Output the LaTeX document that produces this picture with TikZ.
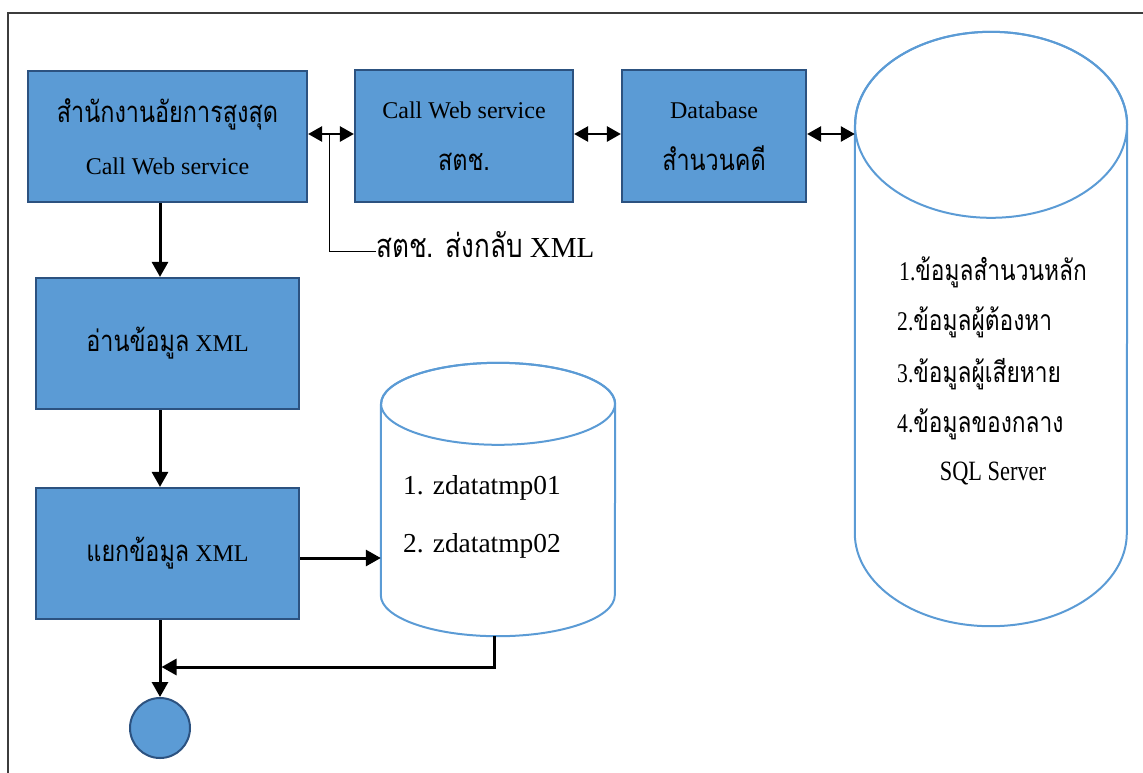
\documentclass[tikz,border=0pt]{standalone}
\usepackage{fontspec}
\setmainfont{Liberation Serif}
\newfontfamily\thaifont[Script=Thai,FakeStretch=0.8,Scale=1.22]{Loma}
\newfontfamily\condfont[FakeStretch=0.8,Scale=1.16]{Liberation Serif}
\newcommand\thaitxt[1]{{\thaifont #1}}
\newcommand\condtxt[1]{{\condfont #1}}
\usetikzlibrary{arrows.meta,calc}
\definecolor{boxfill}{HTML}{5B9BD5}
\definecolor{boxline}{RGB}{44,82,128}
\definecolor{framegray}{RGB}{60,60,60}
\begin{document}
\begin{tikzpicture}[x=1pt,y=-1pt,
  procbox/.style={draw=boxline,fill=boxfill,line width=2.2pt,inner sep=0pt,align=center,font=\fontsize{24}{52}\selectfont},
  flow/.style={line width=3pt,-{Triangle[length=15pt,width=16pt]}},
  biflow/.style={line width=2.6pt,{Triangle[length=14pt,width=15pt]}-{Triangle[length=14pt,width=15pt]}},
  cylline/.style={draw=boxfill,line width=2pt},
  leader/.style={line width=1pt},
  cyltext/.style={anchor=base west,inner sep=0pt}]
\useasboundingbox (0,0) rectangle (1143,772);
\draw[framegray,line width=1.2pt] (8,790) -- (8,13) -- (1160,13);

% process boxes
\node[procbox,minimum width=279pt,minimum height=131pt] (A) at (167.5,136.5)
  {\thaitxt{สำนักงานอัยการสูงสุด}\\Call Web service};
\node[procbox,minimum width=218pt,minimum height=132pt] (B) at (464,136)
  {Call Web service\\\thaitxt{สตช.}};
\node[procbox,minimum width=184pt,minimum height=132pt] (C) at (714,136)
  {Database\\\thaitxt{สำนวนคดี}};
\node[procbox,minimum width=263pt,minimum height=131pt] (D) at (167.5,343.5)
  {\thaitxt{อ่านข้อมูล} XML};
\node[procbox,minimum width=263pt,minimum height=131pt] (E) at (167.5,553.5)
  {\thaitxt{แยกข้อมูล} XML};
\node[draw=boxline,fill=boxfill,line width=2pt,circle,minimum size=60pt,inner sep=0pt] (endc) at (160,728) {};

% big cylinder
\node[minimum width=272pt,minimum height=594pt,inner sep=0pt] (bigdb) at (991,329) {};
\draw[cylline] ([yshift=-93pt]bigdb.north west) -- ([yshift=93pt]bigdb.south west)
  arc[start angle=180,end angle=360,x radius=136pt,y radius=93pt]
  -- ([yshift=-93pt]bigdb.north east)
  arc[start angle=0,end angle=180,x radius=136pt,y radius=93pt];
\draw[cylline] ([yshift=-93pt]bigdb.north) ellipse[x radius=136pt,y radius=93pt];
\begin{scope}[font=\fontsize{23.3}{28}\selectfont]
\node[cyltext] (l1) at (899,280) {\condtxt{1.}\thaitxt{ข้อมูลสำนวนหลัก}};
\node[cyltext] (l2) at (897,330) {\condtxt{2.}\thaitxt{ข้อมูลผู้ต้องหา}};
\node[cyltext] (l3) at (897,382) {\condtxt{3.}\thaitxt{ข้อมูลผู้เสียหาย}};
\node[cyltext] (l4) at (897,432) {\condtxt{4.}\thaitxt{ข้อมูลของกลาง}};
\end{scope}
\node[anchor=base,inner sep=0pt,font=\fontsize{24.1}{28}\selectfont\condfont] (sql) at (993,480) {SQL Server};

% small cylinder
\node[minimum width=234pt,minimum height=273pt,inner sep=0pt] (smalldb) at (498,499.5) {};
\draw[cylline] ([yshift=-41pt]smalldb.north west) -- ([yshift=41pt]smalldb.south west)
  arc[start angle=180,end angle=360,x radius=117pt,y radius=41pt]
  -- ([yshift=-41pt]smalldb.north east)
  arc[start angle=0,end angle=180,x radius=117pt,y radius=41pt];
\draw[cylline] ([yshift=-41pt]smalldb.north) ellipse[x radius=117pt,y radius=41pt];
\begin{scope}[font=\fontsize{27.4}{32}\selectfont]
\node[cyltext] (t1) at (403,494.5) {1. zdatatmp01};
\node[cyltext] (t2) at (403,552.5) {2. zdatatmp02};
\end{scope}

% label
\node[anchor=base west,inner sep=0pt,font=\fontsize{29}{34}\selectfont] (lbl) at (376,257)
  {{\fontsize{26.7}{34}\selectfont\thaifont สตช. ส่งกลับ} XML};
\coordinate (lt) at (329,134);

% connectors
\coordinate (colx) at (160,0);
\coordinate (join) at (161.5,667);
\draw[biflow] (A.east |- lt) -- (B.west |- lt);
\draw[biflow] (B.east |- lt) -- (C.west |- lt);
\draw[biflow] (C.east |- lt) -- (bigdb.west |- lt);
\draw[leader] (lt) |- ([yshift=6pt]lbl.base west);
\draw[flow] (A.south -| colx) -- (D.north -| colx);
\draw[flow] (D.south -| colx) -- (E.north -| colx);
\draw[flow] ([yshift=-4.5pt]E.east) -- ([yshift=-4.5pt]E.east -| smalldb.west);
\draw[flow] (E.south -| colx) -- (endc.north);
\draw[flow] ([xshift=-4pt]smalldb.south) |- (join);
\end{tikzpicture}
\end{document}
